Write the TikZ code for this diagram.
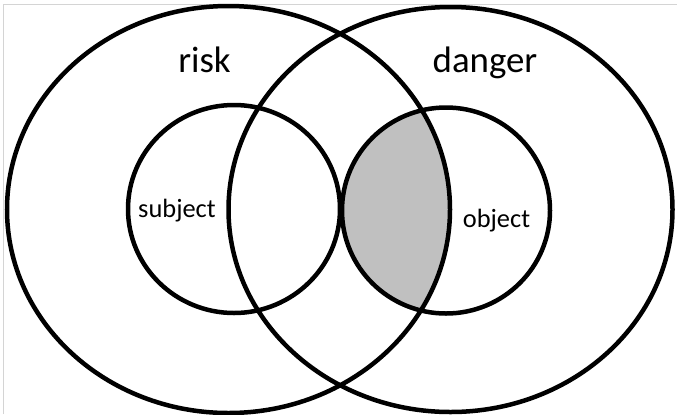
\documentclass[tikz,border=0pt]{standalone}
\usepackage{fontspec}
\setmainfont{Carlito}
\definecolor{lensgray}{HTML}{C0C0C0}
\definecolor{framegray}{HTML}{D4D4D4}
\begin{document}
\begin{tikzpicture}[x=1bp,y=-1bp,
  ring/.style={draw=black,line width=4.5bp},
  bigword/.style={anchor=base,font=\fontsize{37}{40}\selectfont},
  smallword/.style={anchor=base,font=\fontsize{26.5}{30}\selectfont}]
\useasboundingbox (0,0) rectangle (677,414);
\fill[white] (0,0) rectangle (677,414);
\draw[framegray,line width=1bp] (3,414) -- (3,4) -- (677,4);
% shaded intersection
\begin{scope}
  \clip (228.5,209.5) ellipse [x radius=221.5bp, y radius=203.5bp];
  \fill[fill=lensgray] (446,210.5) ellipse [x radius=104bp, y radius=103bp];
\end{scope}
\draw[ring] (228.5,209.5) ellipse [x radius=221.5bp, y radius=203.5bp];
\draw[ring] (450.5,209.5) ellipse [x radius=222bp, y radius=202.5bp];
\draw[ring] (234,209) ellipse [x radius=106bp, y radius=104bp];
\draw[ring] (446,210.5) ellipse [x radius=104bp, y radius=103bp];
\node[bigword] (risk) at (204.5,72) {risk};
\node[bigword] (danger) at (485,72) {danger};
\node[smallword] (subject) at (177,217) {subject};
\node[smallword] (object) at (496.5,227) {object};
\end{tikzpicture}
\end{document}
